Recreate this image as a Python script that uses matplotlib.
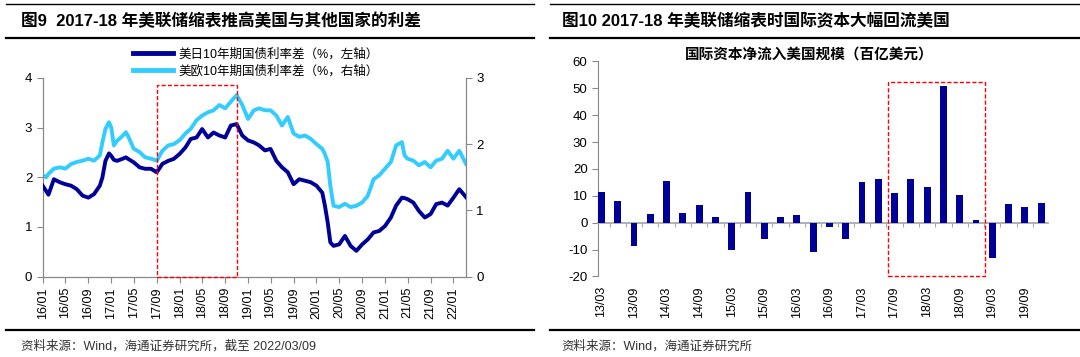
import pandas as pd
import matplotlib
matplotlib.use('Agg')
from matplotlib import pyplot as plt
from matplotlib.lines import Line2D
from matplotlib.patches import Rectangle
import matplotlib.dates as mdates

plt.rcParams['font.family'] = ['Liberation Sans', 'Noto Sans CJK SC', 'DejaVu Sans']
plt.rcParams['axes.unicode_minus'] = False

# left chart: spread series
spread_dates = ['2016-01-01', '2016-01-20', '2016-02-01', '2016-03-01', '2016-04-01', '2016-05-01',
                '2016-06-01', '2016-07-01', '2016-08-01', '2016-09-01', '2016-10-01', '2016-11-01',
                '2016-11-15', '2016-12-01', '2016-12-20', '2017-01-01', '2017-01-15', '2017-02-01',
                '2017-03-01', '2017-03-20', '2017-04-01', '2017-05-01', '2017-06-01', '2017-07-01',
                '2017-08-01', '2017-09-01', '2017-10-01', '2017-11-01', '2017-12-01', '2018-01-01',
                '2018-02-01', '2018-03-01', '2018-04-01', '2018-05-01', '2018-06-01', '2018-07-01',
                '2018-08-01', '2018-09-01', '2018-10-01', '2018-11-01', '2018-12-01', '2019-01-01',
                '2019-02-01', '2019-03-01', '2019-04-01', '2019-05-01', '2019-06-01', '2019-07-01',
                '2019-08-01', '2019-09-01', '2019-10-01', '2019-11-01', '2019-12-01', '2020-01-01',
                '2020-02-01', '2020-02-15', '2020-03-01', '2020-03-15', '2020-04-01', '2020-05-01',
                '2020-06-01', '2020-07-01', '2020-08-01', '2020-09-01', '2020-10-01', '2020-11-01',
                '2020-12-01', '2021-01-01', '2021-02-01', '2021-03-01', '2021-04-01', '2021-04-15',
                '2021-05-01', '2021-06-01', '2021-07-01', '2021-08-01', '2021-09-01', '2021-10-01',
                '2021-11-01', '2021-12-01', '2022-01-01', '2022-02-01', '2022-03-09']
us_jp = [1.83, 1.72, 1.65, 1.96, 1.90, 1.86,
         1.83, 1.76, 1.63, 1.59, 1.66, 1.83,
         2.00, 2.33, 2.48, 2.43, 2.35, 2.33,
         2.37, 2.40, 2.37, 2.30, 2.20, 2.17,
         2.17, 2.10, 2.27, 2.33, 2.37, 2.47,
         2.60, 2.77, 2.80, 2.97, 2.80, 2.90,
         2.84, 2.80, 3.04, 3.07, 2.84, 2.74,
         2.70, 2.64, 2.54, 2.57, 2.33, 2.20,
         2.10, 1.86, 1.96, 1.93, 1.90, 1.83,
         1.69, 1.43, 1.09, 0.69, 0.62, 0.65,
         0.82, 0.62, 0.52, 0.65, 0.75, 0.89,
         0.92, 1.02, 1.19, 1.43, 1.59, 1.58,
         1.56, 1.49, 1.32, 1.19, 1.26, 1.46,
         1.49, 1.43, 1.59, 1.76, 1.60]
us_eu = [1.53, 1.50, 1.55, 1.63, 1.65, 1.63,
         1.70, 1.73, 1.75, 1.78, 1.75, 1.83,
         2.03, 2.23, 2.33, 2.25, 1.98, 2.05,
         2.12, 2.18, 2.12, 1.93, 1.88, 1.80,
         1.78, 1.75, 1.90, 1.98, 2.00, 2.06,
         2.16, 2.23, 2.36, 2.43, 2.48, 2.51,
         2.59, 2.54, 2.64, 2.74, 2.59, 2.38,
         2.51, 2.54, 2.51, 2.51, 2.43, 2.28,
         2.41, 2.16, 2.11, 2.13, 2.08, 2.00,
         1.93, 1.85, 1.73, 1.37, 1.07, 1.05,
         1.10, 1.05, 1.07, 1.12, 1.22, 1.47,
         1.53, 1.63, 1.73, 1.98, 2.03, 1.83,
         1.78, 1.75, 1.68, 1.73, 1.65, 1.75,
         1.78, 1.90, 1.78, 1.90, 1.70]
left_ticks = ['2016-01', '2016-05', '2016-09', '2017-01', '2017-05', '2017-09', '2018-01',
              '2018-05', '2018-09', '2019-01', '2019-05', '2019-09', '2020-01', '2020-05',
              '2020-09', '2021-01', '2021-05', '2021-09', '2022-01']

# right chart: quarterly net capital inflow
quarters = ['13/03', '13/06', '13/09', '13/12', '14/03', '14/06', '14/09', '14/12',
            '15/03', '15/06', '15/09', '15/12', '16/03', '16/06', '16/09', '16/12',
            '17/03', '17/06', '17/09', '17/12', '18/03', '18/06', '18/09', '18/12',
            '19/03', '19/06', '19/09', '19/12']
inflow = [11.5, 8.0, -8.5, 3.3, 15.5, 3.5, 6.5, 2.2,
          -10.0, 11.3, -6.0, 2.1, 2.7, -11.0, -1.5, -6.0,
          15.3, 16.2, 11.0, 16.2, 13.3, 50.8, 10.2, 1.0,
          -13.3, 7.0, 5.7, 7.5]

DARK = '#000099'
LIGHT = '#33CCFF'
GRID = '#888888'
CJK = ['Liberation Sans', 'Noto Sans CJK SC']

fig = plt.figure(figsize=(10.8, 3.57), dpi=100)

# header / footer rules and texts
for x0, x1 in [(0.006, 0.494), (0.509, 1.0)]:
    fig.add_artist(Line2D([x0, x1], [1 - 3.5 / 357, 1 - 3.5 / 357], color='black', lw=1.0))
    fig.add_artist(Line2D([x0, x1], [1 - 37.5 / 357, 1 - 37.5 / 357], color='black', lw=1.6))
    fig.add_artist(Line2D([x0, x1], [1 - 330 / 357, 1 - 330 / 357], color='black', lw=1.6))

fig.text(0.019, 1 - 20.5 / 357, '图9  2017-18 年美联储缩表推高美国与其他国家的利差',
         fontsize=12, fontweight='bold', va='center', family=CJK)
fig.text(0.520, 1 - 20.5 / 357, '图10 2017-18 年美联储缩表时国际资本大幅回流美国',
         fontsize=12, fontweight='bold', va='center', family=CJK)
fig.text(0.019, 1 - 346 / 357, '资料来源：Wind，海通证券研究所，截至 2022/03/09',
         fontsize=9, va='center', color='#333333', family=CJK)
fig.text(0.520, 1 - 346 / 357, '资料来源：Wind，海通证券研究所',
         fontsize=9, va='center', color='#333333', family=CJK)

# ---- left chart ----
ax = fig.add_axes([0.0395, 0.225, 0.392, 0.557])
ax2 = ax.twinx()
d = pd.to_datetime(spread_dates)
ax.plot(d, us_jp, color=DARK, lw=2.8, zorder=3)
ax2.plot(d, us_eu, color=LIGHT, lw=2.8, zorder=2)
ax.set_zorder(ax2.get_zorder() + 1)
ax.patch.set_visible(False)

ax.set_xlim(pd.Timestamp('2016-01-01'), pd.Timestamp('2022-03-09'))
ax.set_ylim(0, 4)
ax2.set_ylim(0, 3)
ax.set_yticks([0, 1, 2, 3, 4])
ax2.set_yticks([0, 1, 2, 3])
ax.set_xticks(pd.to_datetime(left_ticks))
ax.xaxis.set_major_formatter(mdates.DateFormatter('%y/%m'))
for a in (ax, ax2):
    a.spines['top'].set_visible(False)
    for s in ('left', 'right', 'bottom'):
        a.spines[s].set_color(GRID)
    a.tick_params(colors=GRID, labelcolor='black', labelsize=9.5, length=4)
ax.tick_params(axis='x', rotation=90, labelsize=9)

x0 = mdates.date2num(pd.Timestamp('2017-09-01'))
x1 = mdates.date2num(pd.Timestamp('2018-11-03'))
ax.add_patch(Rectangle((x0, 0), x1 - x0, 3.86, fill=False, ec='#FF0000',
                       ls=(0, (3, 1.5)), lw=1.0, zorder=5, clip_on=False))

handles = [Line2D([], [], color=DARK, lw=3.5), Line2D([], [], color=LIGHT, lw=3.5)]
fig.legend(handles, ['美日10年期国债利率差（%，左轴）', '美欧10年期国债利率差（%，右轴）'],
           loc='center', bbox_to_anchor=(0.237, 1 - 63 / 357), frameon=False,
           prop={'family': CJK, 'size': 9}, handlelength=3.2, labelspacing=0.35,
           handletextpad=0.5)

# ---- right chart ----
bx = fig.add_axes([0.5537, 0.2255, 0.4163, 0.6025])
pos = list(range(len(quarters)))
bx.bar(pos, inflow, width=0.42, color=DARK, zorder=3)
bx.set_xlim(-0.21, len(quarters) - 0.6)
bx.set_ylim(-20, 60)
bx.set_yticks(range(-20, 61, 10))
bx.spines['top'].set_visible(False)
bx.spines['right'].set_visible(False)
bx.spines['left'].set_color(GRID)
bx.spines['bottom'].set_position(('data', 0))
bx.spines['bottom'].set_color('#AAAAAA')
bx.spines['bottom'].set_linewidth(1.3)
bx.set_xticks([p + 0.5 for p in pos[:-1]])
bx.tick_params(axis='x', colors='#AAAAAA', length=3, labelbottom=False)
bx.tick_params(axis='y', colors=GRID, labelcolor='black', labelsize=9.5, length=4)

sec = bx.secondary_xaxis(0)
sec.set_xticks(pos[::2])
sec.set_xticklabels(quarters[::2], rotation=90, fontsize=9)
sec.tick_params(length=0, pad=7)
sec.spines['bottom'].set_visible(False)

bx.add_patch(Rectangle((17.58, -20), 6.0, 72.5, fill=False, ec='#FF0000',
                       ls=(0, (3, 1.5)), lw=1.0, zorder=5, clip_on=False))
bx.set_title('国际资本净流入美国规模（百亿美元）', fontsize=10.5, fontweight='bold',
             family=CJK, pad=-4, x=0.47)

fig.savefig('out.png', dpi=100)
